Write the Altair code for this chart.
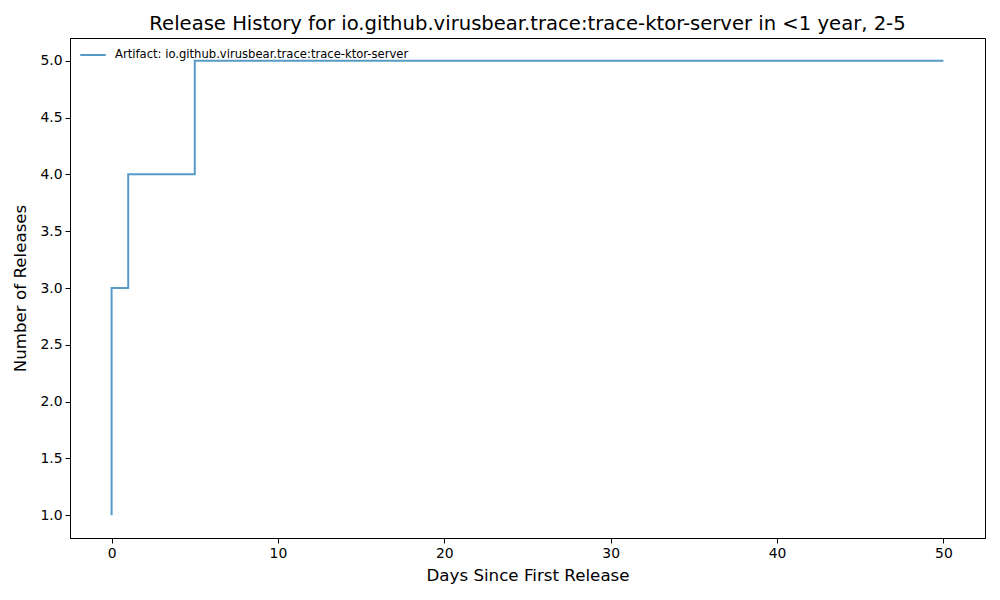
import altair as alt
import pandas as pd

days = [0, 0, 0, 1, 5, 50]
releases = [1, 2, 3, 4, 5, 5]
series_name = "Artifact: io.github.virusbear.trace:trace-ktor-server"

df = pd.DataFrame({"days": days, "releases": releases, "series": [series_name] * len(days)})

font = "DejaVu Sans"

line = alt.Chart(df).mark_line(interpolate="step-after", strokeWidth=2, opacity=0.75).encode(
    x=alt.X("days:Q", scale=alt.Scale(domain=[-2.5, 52.5], nice=False, zero=False),
            axis=alt.Axis(values=[0, 10, 20, 30, 40, 50], title="Days Since First Release", format="d")),
    y=alt.Y("releases:Q", scale=alt.Scale(domain=[0.8, 5.2], nice=False, zero=False),
            axis=alt.Axis(values=[1.0, 1.5, 2.0, 2.5, 3.0, 3.5, 4.0, 4.5, 5.0], format=".1f",
                          title="Number of Releases")),
    color=alt.Color("series:N", scale=alt.Scale(range=["#1f77b4"]),
                    legend=alt.Legend(title=None, orient="none", legendX=9, legendY=3,
                                      symbolType="stroke", symbolSize=650, symbolStrokeWidth=2,
                                      labelFont=font, labelFontSize=11.6, labelColor="black",
                                      symbolOpacity=0.75, labelLimit=600, labelOffset=8)),
)

chart = line.properties(
    width=915, height=500,
    title=alt.TitleParams("Release History for io.github.virusbear.trace:trace-ktor-server in <1 year, 2-5",
                          font=font, fontSize=19.6, fontWeight="normal", color="black", offset=3),
    autosize=alt.AutoSizeParams(type="none"),
    padding={"left": 70, "top": 38, "right": 15, "bottom": 62},
).configure_view(stroke="black", strokeWidth=1).configure_axis(
    grid=False, domainColor="black", tickColor="black", tickSize=5,
    labelFont=font, labelFontSize=13.9, labelColor="black",
    titleFont=font, titleFontSize=16.7, titleFontWeight="normal", titleColor="black",
    labelPadding=3,
).configure_axisX(titlePadding=8).configure_axisY(titlePadding=10)

chart.save("out.html", embed_options={"renderer": "svg", "actions": False})
